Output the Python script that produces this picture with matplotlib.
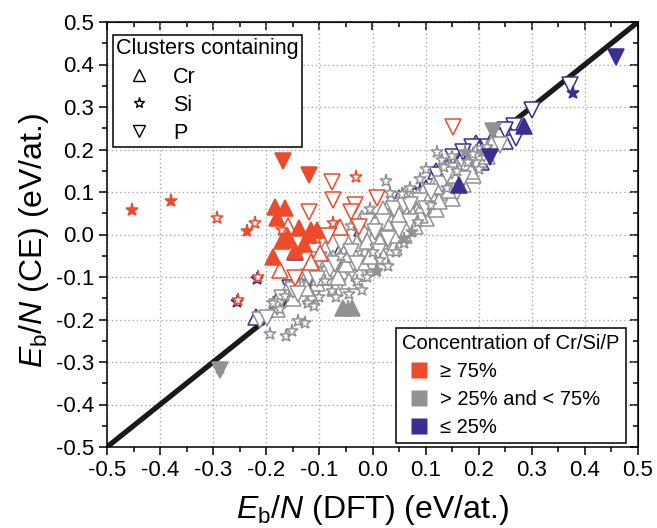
import matplotlib
matplotlib.use("Agg")
import matplotlib.pyplot as plt
from matplotlib.lines import Line2D

plt.rcParams['font.family'] = ['Liberation Sans', 'DejaVu Sans']
plt.rcParams['mathtext.fontset'] = 'custom'
plt.rcParams['mathtext.rm'] = 'Liberation Sans'
plt.rcParams['mathtext.it'] = 'Liberation Sans:italic'
plt.rcParams['axes.unicode_minus'] = False

RED = '#ee4a2c'
GRAY = '#929294'
BLUE = '#3a2e92'

# --- data: (E_DFT, E_CE) in eV/at. ---
# concentration >= 75 %
red_cr_fill = [(-0.184, 0.065), (-0.164, 0.063), (-0.179, 0.038), (-0.138, 0.015),
               (-0.160, -0.005), (-0.129, -0.023), (-0.115, 0.011), (-0.105, 0.010),
               (-0.146, -0.039), (-0.188, -0.054), (-0.170, -0.015), (-0.120, 0.000)]
red_cr_open = [(-0.159, 0.020), (-0.098, -0.044), (-0.174, -0.084), (-0.061, 0.017),
               (-0.116, -0.064)]
red_si_fill = [(-0.452, 0.058), (-0.379, 0.080), (-0.237, 0.009), (-0.160, -0.020),
               (-0.140, -0.045)]
red_si_open = [(-0.293, 0.040), (-0.221, 0.026), (-0.031, 0.135), (-0.074, 0.028),
               (-0.171, 0.011), (-0.216, -0.101), (-0.254, -0.154), (-0.105, -0.010)]
red_p_fill = [(-0.169, 0.174), (-0.120, 0.140)]
red_p_open = [(-0.077, 0.124), (-0.074, 0.081), (-0.120, 0.052), (0.008, 0.087),
              (-0.033, 0.069), (-0.040, 0.054), (-0.025, 0.017), (0.152, 0.254),
              (-0.083, -0.004), (-0.146, -0.103)]

# concentration between 25 % and 75 %
gray_cr_fill = [(-0.055, -0.174), (-0.039, -0.174)]
gray_cr_open = [(-0.120, -0.085), (-0.105, -0.115), (-0.095, -0.070), (-0.085, -0.100),
                (-0.075, -0.055), (-0.070, -0.125), (-0.060, -0.085), (-0.055, -0.040),
                (-0.045, -0.110), (-0.040, -0.065), (-0.030, -0.020), (-0.025, -0.090),
                (-0.015, -0.045), (-0.010, 0.005), (0.000, -0.070), (0.005, -0.025),
                (0.010, 0.020), (0.020, -0.050), (0.025, 0.000), (0.030, 0.045),
                (0.040, -0.030), (0.045, 0.025), (0.050, 0.065), (0.060, 0.000),
                (0.065, 0.045), (0.075, 0.085), (0.080, 0.020), (0.085, 0.060),
                (0.095, 0.100), (0.100, 0.040), (0.105, 0.080), (0.115, 0.120),
                (0.120, 0.060), (0.130, 0.100), (0.140, 0.135), (0.150, 0.085),
                (0.160, 0.120), (0.175, 0.155), (0.190, 0.140), (0.200, 0.175),
                (-0.135, -0.120), (-0.115, -0.145), (-0.090, -0.035), (-0.020, 0.040),
                (0.035, 0.080), (-0.110, -0.060), (-0.100, -0.100), (-0.080, -0.060),
                (-0.065, -0.100), (-0.050, -0.070), (-0.035, -0.045), (-0.020, -0.065),
                (-0.005, -0.050), (0.005, 0.000), (0.015, -0.015), (0.030, 0.015),
                (0.040, 0.000), (0.055, 0.035), (0.065, 0.015), (0.075, 0.050),
                (0.090, 0.045), (0.095, 0.070), (0.110, 0.095), (0.125, 0.080),
                (0.135, 0.120), (0.145, 0.105), (0.155, 0.140), (0.170, 0.120),
                (0.180, 0.170), (0.185, 0.150), (0.215, 0.185), (0.225, 0.215),
                (-0.150, -0.150), (-0.160, -0.125), (-0.180, -0.175), (0.000, 0.035),
                (-0.050, -0.010), (0.020, 0.060), (0.060, 0.090), (-0.125, -0.125),
                (-0.090, -0.085), (-0.045, -0.045), (-0.010, -0.015), (0.025, 0.030),
                (0.050, 0.045), (0.085, 0.090), (0.120, 0.115), (0.160, 0.160),
                (0.195, 0.195)]
gray_si_fill = [(-0.287, -0.315), (0.008, -0.087), (0.074, 0.007), (0.007, -0.085),
                (-0.046, -0.170), (0.174, 0.195), (0.206, 0.195), (0.060, -0.010)]
gray_si_open = [(-0.193, -0.233), (-0.162, -0.239), (-0.151, -0.226), (-0.140, -0.203),
                (-0.128, -0.209), (-0.121, -0.162), (-0.111, -0.168), (-0.100, -0.146),
                (-0.077, -0.133), (-0.068, -0.146), (-0.020, -0.131), (-0.187, -0.162),
                (-0.175, -0.175), (-0.165, -0.145), (-0.045, -0.140), (-0.030, -0.110),
                (-0.010, -0.100), (0.015, -0.060), (0.030, -0.075), (0.045, -0.040),
                (0.060, -0.020), (0.025, 0.126), (0.033, 0.098), (0.121, 0.195),
                (0.100, 0.155), (0.130, 0.175), (0.070, 0.110), (0.090, 0.130),
                (0.055, 0.095), (0.110, 0.070), (0.140, 0.110), (0.160, 0.150),
                (0.180, 0.170), (0.190, 0.190), (0.200, 0.155), (0.215, 0.205),
                (-0.005, 0.060), (-0.060, -0.050), (-0.090, -0.110), (0.000, -0.040),
                (0.135, 0.160), (0.150, 0.185), (0.085, 0.030), (-0.040, 0.020)]
gray_p_fill = [(-0.287, -0.319), (0.226, 0.244)]
gray_p_open = [(-0.212, -0.201), (-0.199, -0.197), (-0.170, -0.150), (-0.150, -0.130),
               (-0.120, -0.100), (-0.100, -0.060), (-0.080, -0.080), (-0.060, -0.020),
               (-0.040, -0.040), (-0.020, 0.000), (0.000, 0.020), (0.020, 0.030),
               (0.040, 0.060), (0.060, 0.070), (0.070, 0.030), (0.090, 0.080),
               (0.110, 0.100), (0.130, 0.120), (0.150, 0.150), (0.170, 0.130),
               (0.010, -0.040), (-0.030, -0.070), (0.050, 0.010), (0.210, 0.190),
               (0.240, 0.210), (-0.070, -0.070), (0.030, -0.010), (0.100, 0.060),
               (0.160, 0.100), (-0.010, 0.030), (-0.180, -0.170), (-0.140, -0.140),
               (-0.105, -0.105), (0.005, 0.005), (0.070, 0.070), (0.140, 0.140)]

# concentration <= 25 %
blue_cr_fill = [(0.286, 0.255), (0.162, 0.116), (-0.146, -0.041)]
blue_cr_open = [(0.202, 0.204), (0.184, 0.187), (0.165, 0.171), (0.259, 0.254),
                (0.140, 0.160), (0.130, 0.125), (0.175, 0.150), (0.205, 0.170),
                (0.100, 0.110), (0.080, 0.095), (0.050, 0.085), (0.020, 0.045),
                (-0.020, 0.015), (-0.060, -0.035), (-0.100, -0.075), (-0.140, -0.115),
                (-0.180, -0.155), (-0.220, -0.195), (0.230, 0.240), (0.250, 0.220),
                (0.120, 0.150), (0.195, 0.215)]
blue_si_fill = [(0.378, 0.332)]
blue_si_open = [(-0.217, -0.105), (-0.255, -0.158), (0.090, 0.105), (0.150, 0.140)]
blue_p_fill = [(0.459, 0.418), (0.221, 0.183)]
blue_p_open = [(0.372, 0.352), (0.300, 0.293), (0.266, 0.255), (0.271, 0.226),
               (0.121, 0.140), (0.187, 0.207), (0.218, 0.207), (0.152, 0.183),
               (0.240, 0.230), (-0.155, -0.127), (-0.130, -0.127), (0.030, 0.040),
               (0.170, 0.195), (0.250, 0.245)]

fig = plt.figure(figsize=(6.57, 5.28), dpi=100)
ax = fig.add_axes([107 / 657, 1 - 447 / 528, 531 / 657, 425 / 528])

ax.plot([-0.5, 0.5], [-0.5, 0.5], color='#1a1a1a', lw=3.8, zorder=2, solid_capstyle='butt')


def draw(pts, marker, color, filled, z):
    xs = [p[0] for p in pts]
    ys = [p[1] for p in pts]
    ms = 9.5 if marker == '*' else 11
    ax.plot(xs, ys, ls='none', marker=marker, ms=ms, mec=color,
            mfc=color if filled else 'white', mew=1.1, zorder=z)


draw(blue_cr_open, '^', BLUE, False, 3)
draw(blue_p_open, 'v', BLUE, False, 3)
draw(blue_si_open, '*', BLUE, False, 3)
draw(gray_cr_open, '^', GRAY, False, 4)
draw(gray_p_open, 'v', GRAY, False, 4)
draw(gray_si_open, '*', GRAY, False, 4)
draw(gray_cr_fill, '^', GRAY, True, 5)
draw(gray_si_fill, '*', GRAY, True, 5)
draw(gray_p_fill, 'v', GRAY, True, 5)
draw(blue_cr_fill, '^', BLUE, True, 5)
draw(blue_si_fill, '*', BLUE, True, 5)
draw(blue_p_fill, 'v', BLUE, True, 5)
draw(red_cr_open, '^', RED, False, 6)
draw(red_si_open, '*', RED, False, 6)
draw(red_p_open, 'v', RED, False, 6)
draw(red_cr_fill, '^', RED, True, 7)
draw(red_si_fill, '*', RED, True, 7)
draw(red_p_fill, 'v', RED, True, 7)

ticks = [-0.5, -0.4, -0.3, -0.2, -0.1, 0.0, 0.1, 0.2, 0.3, 0.4, 0.5]
minor = [t + 0.05 for t in ticks[:-1]]
ax.set_xlim(-0.5, 0.5)
ax.set_ylim(-0.5, 0.5)
ax.set_xticks(ticks)
ax.set_yticks(ticks)
ax.set_xticklabels(['%.1f' % t for t in ticks])
ax.set_yticklabels(['%.1f' % t for t in ticks])
ax.set_xticks(minor, minor=True)
ax.set_yticks(minor, minor=True)
ax.tick_params(which='both', direction='out', top=False, right=False, width=1.1)
ax.tick_params(which='major', length=6, labelsize=16, pad=3)
ax.tick_params(which='minor', length=3.5)
# inward ticks on the top and right edges
ax2 = ax.secondary_xaxis('top')
ax2.set_xticks(ticks)
ax2.set_xticks(minor, minor=True)
ax2.tick_params(which='both', direction='in', labeltop=False, width=1.1)
ax2.tick_params(which='major', length=6)
ax2.tick_params(which='minor', length=3.5)
ax3 = ax.secondary_yaxis('right')
ax3.set_yticks(ticks)
ax3.set_yticks(minor, minor=True)
ax3.tick_params(which='both', direction='in', labelright=False, width=1.1)
ax3.tick_params(which='major', length=6)
ax3.tick_params(which='minor', length=3.5)
for s in ax.spines.values():
    s.set_linewidth(1.1)

ax.grid(True, which='major', ls=(0, (1, 2)), color='#aaaaaa', lw=1.0, zorder=0)
ax.set_axisbelow(True)

ax.set_xlabel(r'$E_\mathrm{b}/N$ (DFT) (eV/at.)', fontsize=23)
ax.set_ylabel(r'$E_\mathrm{b}/N$ (CE) (eV/at.)', fontsize=23)
ax.xaxis.set_label_coords(0.5, -0.108)
ax.yaxis.set_label_coords(-0.106, 0.485)

shape_handles = [Line2D([], [], ls='none', marker='^', ms=9, mec='black', mfc='white', mew=1.0),
                 Line2D([], [], ls='none', marker='*', ms=8, mec='black', mfc='white', mew=1.0),
                 Line2D([], [], ls='none', marker='v', ms=9, mec='black', mfc='white', mew=1.0)]
leg1 = ax.legend(shape_handles, ['Cr', 'Si', 'P'], title='Clusters containing',
                 loc='upper left', bbox_to_anchor=(0.011, 0.969), fontsize=15.5,
                 title_fontsize=15.5, alignment='left', frameon=True, fancybox=False,
                 edgecolor='black', framealpha=1, borderpad=0.15, labelspacing=0.33,
                 handletextpad=0.55, borderaxespad=0, handlelength=2.1)
leg1.get_frame().set_linewidth(1.1)
leg1.set_zorder(10)
ax.add_artist(leg1)

conc_handles = [Line2D([], [], ls='none', marker='s', ms=11, mec='none', mfc=RED),
                Line2D([], [], ls='none', marker='s', ms=11, mec='none', mfc=GRAY),
                Line2D([], [], ls='none', marker='s', ms=11, mec='none', mfc=BLUE)]
leg2 = ax.legend(conc_handles, ['\u2265 75%', '> 25% and < 75%', '\u2264 25%'],
                 title='Concentration of Cr/Si/P', loc='lower right',
                 bbox_to_anchor=(0.977, 0.009), fontsize=14.5, title_fontsize=14.5,
                 alignment='left', frameon=True, fancybox=False, edgecolor='black',
                 framealpha=1, borderpad=0.3, labelspacing=0.45, handlelength=1.7,
                 handletextpad=0.15, borderaxespad=0)
leg2.get_frame().set_linewidth(1.1)
leg2.set_zorder(10)

fig.savefig('out.png', dpi=100)
